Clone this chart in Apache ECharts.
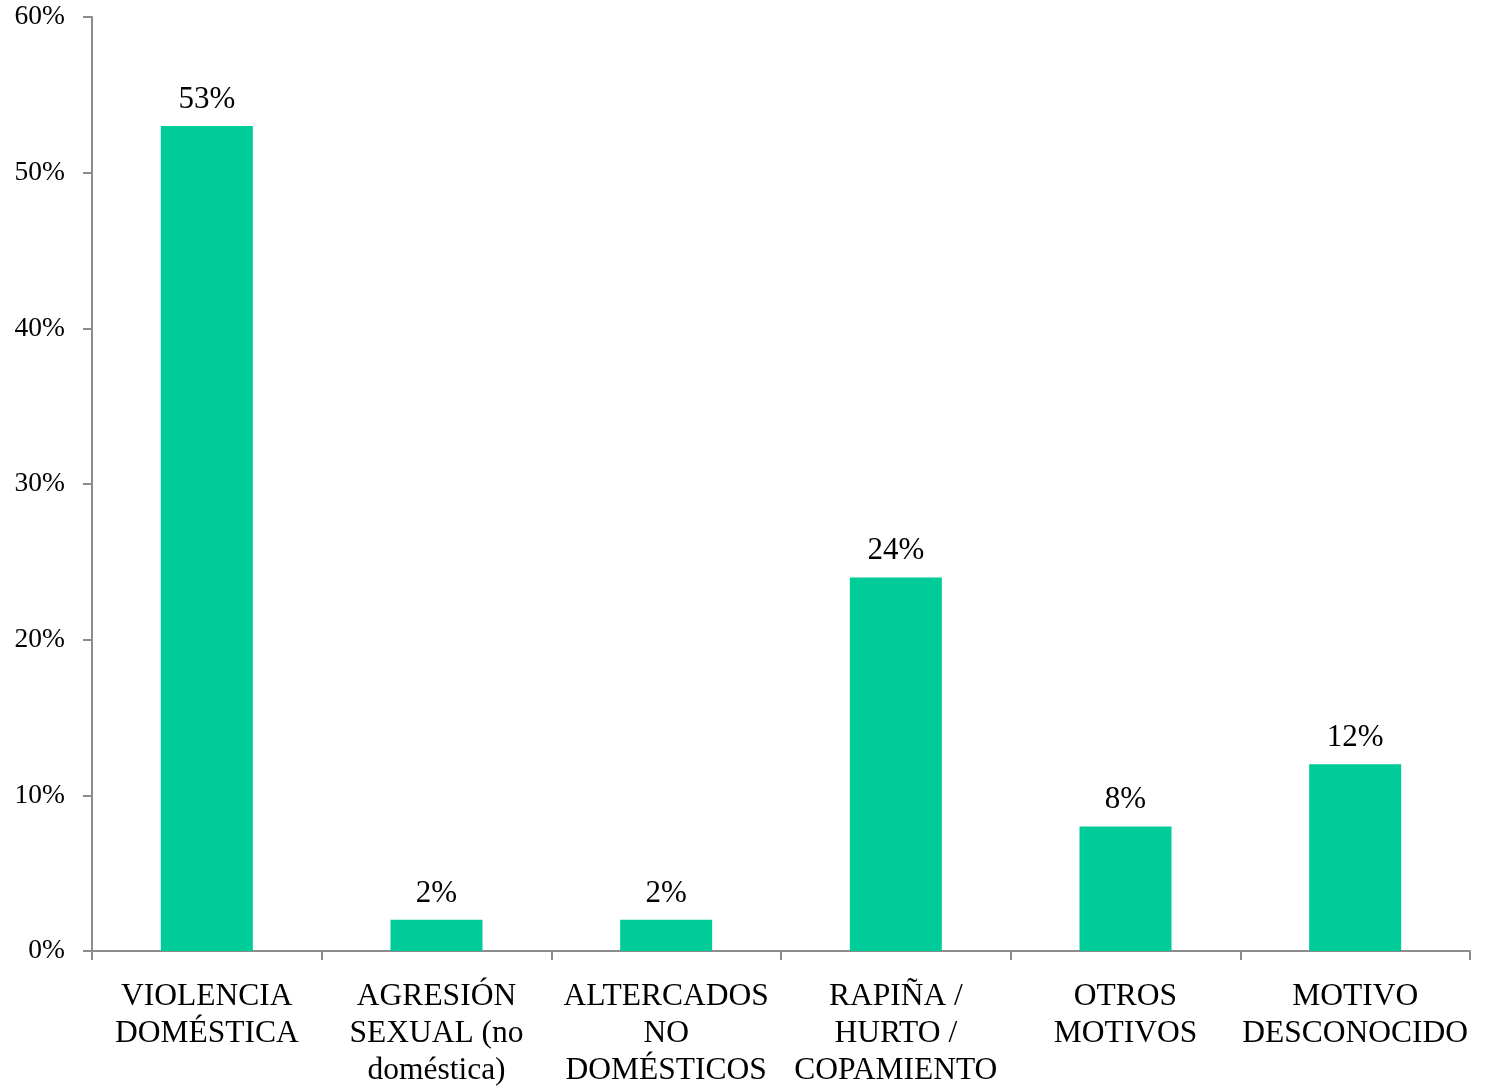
<!DOCTYPE html>
<html>
<head>
<meta charset="utf-8">
<script src="https://cdn.jsdelivr.net/npm/echarts@6/dist/echarts.min.js"></script>
<style>
  html, body { margin: 0; padding: 0; background: #fff; overflow: hidden; }
  #chart { width: 1485px; height: 1089px; }
</style>
</head>
<body>
<div id="chart"></div>
<script>
// motivos y porcentajes
var categorias = [
  'VIOLENCIA\nDOMÉSTICA',
  'AGRESIÓN\nSEXUAL (no\ndoméstica)',
  'ALTERCADOS\nNO\nDOMÉSTICOS',
  'RAPIÑA /\nHURTO /\nCOPAMIENTO',
  'OTROS\nMOTIVOS',
  'MOTIVO\nDESCONOCIDO'
];
var porcentajes = [53, 2, 2, 24, 8, 12];
var ejeY = { min: 0, max: 60, interval: 10 };

var fuente = '"Liberation Serif", "Times New Roman", serif';
var gris = '#8c8c8c';

var chart = echarts.init(document.getElementById('chart'));
var option = {
  animation: false,
  grid: { left: 92, right: 15, top: 17, bottom: 124, containLabel: false },
  xAxis: {
    type: 'category',
    data: categorias,
    axisLine: { lineStyle: { color: gris, width: 2 } },
    axisTick: { show: true, length: 9, lineStyle: { color: gris, width: 2 } },
    axisLabel: {
      color: '#000', fontFamily: fuente, fontSize: 31.5,
      lineHeight: 37, margin: 27, interval: 0
    },
    splitLine: { show: false }
  },
  yAxis: {
    type: 'value',
    min: ejeY.min, max: ejeY.max, interval: ejeY.interval,
    axisLine: { show: true, lineStyle: { color: gris, width: 2 } },
    axisTick: { show: true, length: 9, lineStyle: { color: gris, width: 2 } },
    axisLabel: {
      color: '#000', fontFamily: fuente, fontSize: 27.5, margin: 27,
      formatter: '{value}%'
    },
    splitLine: { show: false }
  },
  series: [{
    type: 'bar',
    data: porcentajes,
    barWidth: 92,
    itemStyle: { color: '#00cc99' },
    label: {
      show: true, position: 'top', distance: 11,
      color: '#000', fontFamily: fuente, fontSize: 31,
      formatter: '{c}%'
    }
  }]
};
chart.setOption(option);
</script>
</body>
</html>
